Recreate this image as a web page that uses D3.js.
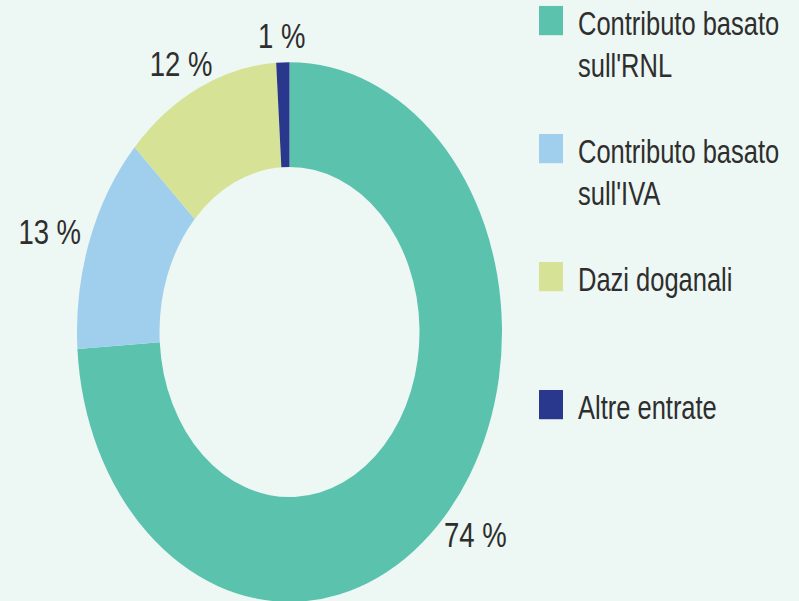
<!DOCTYPE html>
<html>
<head>
<meta charset="utf-8">
<script src="https://cdn.jsdelivr.net/npm/d3@7"></script>
<style>
  html, body { margin: 0; padding: 0; background: #edf7f3; }
  svg { display: block; }
  text { font-family: "Liberation Sans", Arial, sans-serif; fill: #2e2e2e; }
</style>
</head>
<body>
<svg id="chart" width="799" height="601"></svg>
<script>
// Revenue sources (share of total, %)
const categories = ["Contributo basato sull'RNL", "Contributo basato sull'IVA", "Dazi doganali", "Altre entrate"];
const legendLines = [["Contributo basato", "sull'RNL"], ["Contributo basato", "sull'IVA"], ["Dazi doganali"], ["Altre entrate"]];
const values = [74, 13, 12, 1];
const colors = ["#5bc2ae", "#a0cfee", "#d6e295", "#29378d"];

const W = 799, H = 601;
const stretchY = 1.27;           // the whole figure is drawn taller than wide
const cx = 289.5, cy = 332 / stretchY;
const outerR = 212.5, innerR = 130;

const svg = d3.select("#chart");
svg.append("rect").attr("width", W).attr("height", H).attr("fill", "#edf7f3");

const root = svg.append("g").attr("transform", `scale(1,${stretchY})`);

const pie = d3.pie().sort(null).value(d => d)(values);
const arc = d3.arc().innerRadius(innerR).outerRadius(outerR);

const donut = root.append("g").attr("transform", `translate(${cx},${cy})`);
donut.selectAll("path")
  .data(pie)
  .join("path")
  .attr("d", arc)
  .attr("fill", (d, i) => colors[i]);

// Percentage labels just outside the ring, pushed out by half their box
const labelFont = 27.5;
const labelR = outerR + 11;
const labels = donut.selectAll("text.pct")
  .data(pie)
  .join("text")
  .attr("class", "pct")
  .attr("font-size", labelFont)
  .attr("text-anchor", "middle")
  .text(d => `${d.data} %`);

labels.each(function(d) {
  const a = (d.startAngle + d.endAngle) / 2;
  const w = this.getComputedTextLength();
  const capH = labelFont * 0.72;
  const x = Math.sin(a) * labelR + Math.sin(a) * w / 2;
  const y = -Math.cos(a) * labelR - Math.cos(a) * capH / 2 + capH / 2;
  d3.select(this).attr("x", x).attr("y", y);
});

// Legend
const legendX = 539, legendTop = 4.7, legendStep = 100.8, sw = 24, sh = 23;
const legendFont = 25.5, lineGap = 33;
const legend = root.append("g");
const items = legend.selectAll("g")
  .data(categories)
  .join("g")
  .attr("transform", (d, i) => `translate(${legendX},${legendTop + i * legendStep})`);
items.append("rect")
  .attr("width", sw).attr("height", sh)
  .attr("fill", (d, i) => colors[i]);
items.append("text")
  .attr("font-size", legendFont)
  .selectAll("tspan")
  .data((d, i) => legendLines[i])
  .join("tspan")
  .attr("x", 39)
  .attr("y", (d, j) => sh + j * lineGap)
  .text(d => d);
</script>
</body>
</html>
